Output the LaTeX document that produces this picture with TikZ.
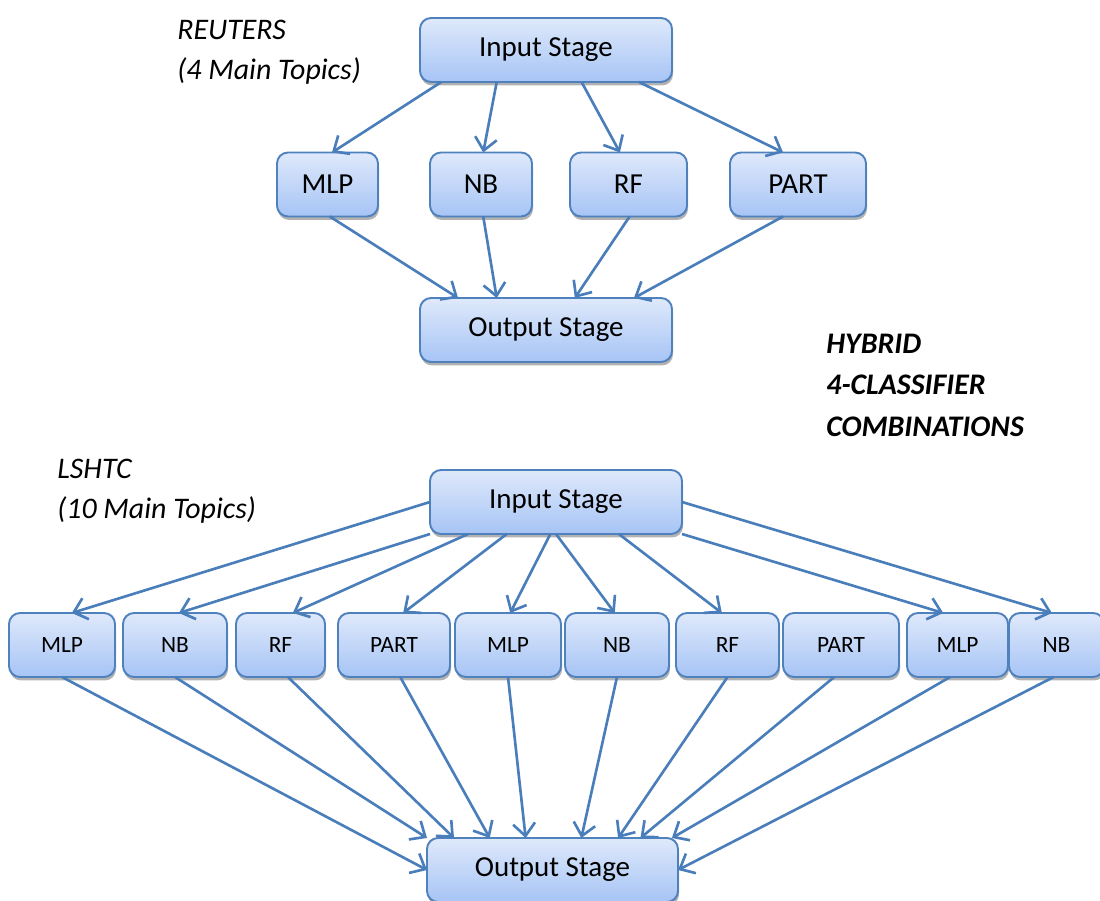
\documentclass[tikz,border=0pt]{standalone}
\usepackage{fontspec}
\setmainfont{Carlito}
\usetikzlibrary{arrows.meta,shadows}
\definecolor{boxedge}{RGB}{79,129,189}
\definecolor{boxtop}{RGB}{223,233,251}
\definecolor{boxbottom}{RGB}{166,196,245}
\definecolor{flowline}{RGB}{74,126,187}

\begin{document}
\begin{tikzpicture}[scale=1,
  box/.style={draw=boxedge, line width=1.1pt, rounded corners=0.22cm,
    top color=boxtop, bottom color=boxbottom,
    minimum height=1.28cm, inner sep=0pt, outer sep=0pt,
    drop shadow={shadow xshift=0.02cm, shadow yshift=-0.07cm, opacity=0.3, fill=black}},
  stage/.style={box, minimum width=5.04cm, font=\fontsize{16.5}{20}\selectfont},
  clfbig/.style={box, font=\fontsize{16.5}{20}\selectfont},
  clfsmall/.style={box, font=\fontsize{13.3}{16}\selectfont},
  flow/.style={draw=flowline, line width=1.5pt,
    -{Straight Barb[length=0.25cm, width=0.44cm]}},
  caption/.style={align=left, anchor=west, inner sep=0pt,
    font=\fontsize{17}{23}\selectfont\itshape}
]

  \useasboundingbox (0,0) rectangle (22,18.02);

  % captions
  \node [caption] (reuters) at (3.54,  16.98)  {REUTERS\\(4 Main Topics)};
  \node [caption] (lshtc)   at (1.14,  8.20)   {LSHTC\\(10 Main Topics)};
  \node [caption, font=\fontsize{17}{23.6}\selectfont\bfseries\itshape] (hybrid)
                            at (16.52, 10.32)  {HYBRID\\4-CLASSIFIER\\COMBINATIONS};

  % reuters stages
  \node [stage] (inreu)     at (10.92, 17.02)  {Input Stage};
  \node [stage] (outreu)    at (10.92, 11.42)  {Output Stage};

  % reuters classifiers
  \node [clfbig, minimum width=2.02cm] (mlpreu)  at (6.55,  14.33) {MLP};
  \node [clfbig, minimum width=2.04cm] (nbreu)   at (9.62,  14.33) {NB};
  \node [clfbig, minimum width=2.34cm] (rfreu)   at (12.57, 14.33) {RF};
  \node [clfbig, minimum width=2.72cm] (partreu) at (15.96, 14.33) {PART};

  % lshtc stages
  \node [stage] (inlsh)     at (11.12, 7.98)   {Input Stage};
  \node [stage, minimum width=5.02cm] (outlsh)
                            at (11.05, 0.62)   {Output Stage};

  % lshtc classifiers
  \node [clfsmall, minimum width=2.12cm] (mlpa)  at (1.24,  5.12) {MLP};
  \node [clfsmall, minimum width=2.08cm] (nba)   at (3.50,  5.12) {NB};
  \node [clfsmall, minimum width=1.78cm] (rfa)   at (5.61,  5.12) {RF};
  \node [clfsmall, minimum width=2.24cm] (parta) at (7.88,  5.12) {PART};
  \node [clfsmall, minimum width=2.12cm] (mlpb)  at (10.16, 5.12) {MLP};
  \node [clfsmall, minimum width=2.08cm] (nbb)   at (12.34, 5.12) {NB};
  \node [clfsmall, minimum width=2.06cm] (rfb)   at (14.55, 5.12) {RF};
  \node [clfsmall, minimum width=2.32cm] (partb) at (16.82, 5.12) {PART};
  \node [clfsmall, minimum width=2.02cm] (mlpc)  at (19.15, 5.12) {MLP};
  \node [clfsmall, minimum width=1.90cm] (nbc)   at (21.13, 5.12) {NB};

  % reuters arrows
  \draw [flow] (inreu.197)    -- (mlpreu.82);
  \draw [flow] (inreu.213)    -- (nbreu.86);
  \draw [flow] (inreu.318)    -- (rfreu.105);
  \draw [flow] (inreu.341)    -- (partreu.115);
  \draw [flow] (mlpreu.274)   -- (outreu.160);
  \draw [flow] (nbreu.274)    -- (outreu.147);
  \draw [flow] (rfreu.272)    -- (outreu.48);
  \draw [flow] (partreu.245)  -- (outreu.20);

  % lshtc arrows in
  \draw [flow] (inlsh.west)        -- (mlpa.73);
  \draw [flow] (inlsh.south west)  -- (nba.83);
  \draw [flow] (inlsh.200)         -- (rfa.69);
  \draw [flow] (inlsh.213)         -- (parta.74);
  \draw [flow] (inlsh.260)         -- (mlpb.86);
  \draw [flow] (inlsh.south)       -- (nbb.94);
  \draw [flow] (inlsh.333)         -- (rfb.100);
  \draw [flow] (inlsh.south east)  -- (mlpc.114);
  \draw [flow] (inlsh.east)        -- (nbc.98);

  % lshtc arrows out
  \draw [flow] (mlpa.south)   -- (outlsh.west);
  \draw [flow] (nba.south)    -- (outlsh.north west);
  \draw [flow] (rfa.283)      -- (outlsh.162);
  \draw [flow] (parta.281)    -- (outlsh.153);
  \draw [flow] (mlpb.south)   -- (outlsh.130);
  \draw [flow] (nbb.south)    -- (outlsh.48);
  \draw [flow] (rfb.south)    -- (outlsh.26);
  \draw [flow] (partb.258)    -- (outlsh.20);
  \draw [flow] (mlpc.257)     -- (outlsh.15);
  \draw [flow] (nbc.265)      -- (outlsh.east);

\end{tikzpicture}
\end{document}
